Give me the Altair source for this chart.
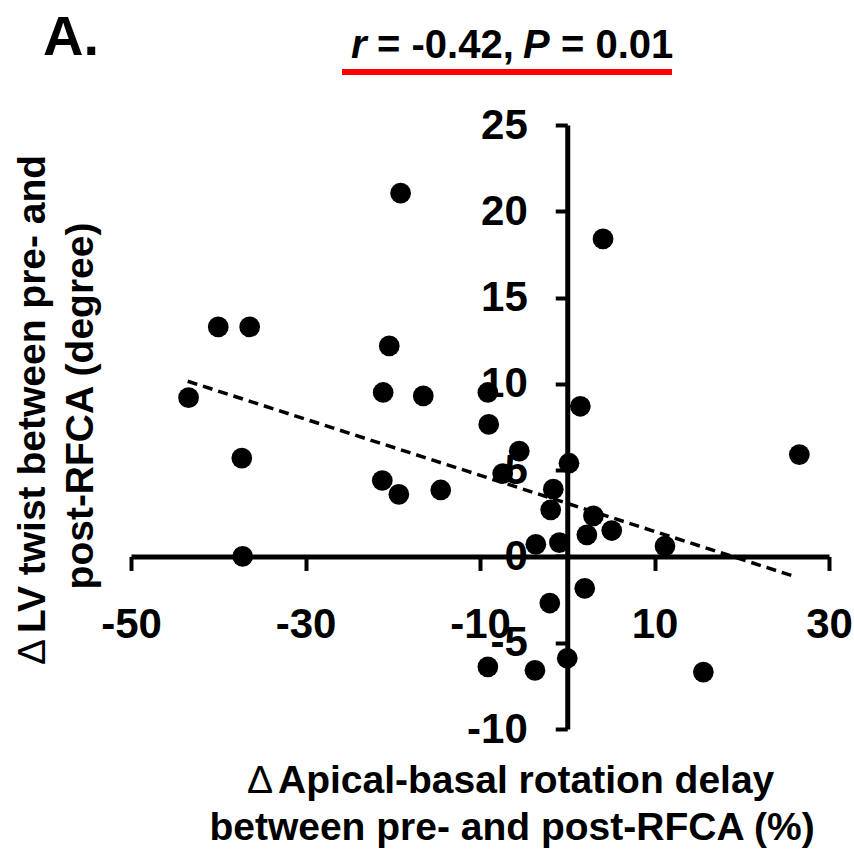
import altair as alt
import pandas as pd

# Data
x_vals = [-43.4, -40.0, -36.4, -37.3, -37.2,
          -19.1, -20.4, -21.1, -16.5, -21.2, -19.3, -14.5,
          -9.1, -9.0, -5.5, -7.4, -1.6, -1.9, -3.6, -0.9, 0.2,
          1.5, 4.1, 26.6, 3.0, 2.25, 5.1, 11.2,
          2.0, -2.0, -9.1, -3.7, 0.0, 15.6]
y_vals = [9.2, 13.3, 13.3, 5.7, 0.0,
          21.05, 12.2, 9.5, 9.3, 4.4, 3.6, 3.85,
          9.5, 7.65, 6.1, 4.8, 3.9, 2.7, 0.7, 0.8, 5.4,
          8.7, 18.4, 5.9, 2.35, 1.25, 1.5, 0.6,
          -1.85, -2.7, -6.4, -6.6, -5.9, -6.7]

trend_x = [-43.5, 26.3]
trend_y = [10.15, -1.2]

x_ticks = [-50, -30, -10, 10, 30]
y_ticks = [-10, -5, 0, 5, 10, 15, 20, 25]

FONT = "Liberation Sans"

W, H = 698, 604
PAD_L, PAD_T = 131, 125

pts = pd.DataFrame({"x": x_vals, "y": y_vals})
trend = pd.DataFrame({"x": trend_x, "y": trend_y})

xscale = alt.Scale(domain=[-50, 30], nice=False, zero=False)
yscale = alt.Scale(domain=[-10, 25], nice=False, zero=False)

y0_px = H * 25 / 35.0      # pixel of y = 0 inside the plot
x0_px = W * 50 / 80.0      # pixel of x = 0 inside the plot

x_axis = alt.Axis(values=x_ticks, orient="bottom", offset=-(H - y0_px),
                  title=None, grid=False, domainColor="black", domainWidth=5,
                  tickColor="black", tickWidth=4, tickSize=14,
                  labelExpr="toString(datum.value)",
                  labelFont=FONT, labelFontWeight="bold", labelFontSize=42,
                  labelColor="black", labelBaseline="alphabetic",
                  labelPadding=67, labelFlush=False, labelOverlap=False)
y_axis = alt.Axis(values=y_ticks, orient="left", offset=-x0_px,
                  title=None, grid=False, domainColor="black", domainWidth=5,
                  tickColor="black", tickWidth=4, tickSize=12,
                  labelExpr="toString(datum.value)",
                  labelFont=FONT, labelFontWeight="bold", labelFontSize=42,
                  labelColor="black", labelPadding=28, labelFlush=False,
                  labelOverlap=False)

points = alt.Chart(pts).mark_circle(size=430, color="black", opacity=1).encode(
    x=alt.X("x:Q", scale=xscale, axis=x_axis),
    y=alt.Y("y:Q", scale=yscale, axis=y_axis),
)

line = alt.Chart(trend).mark_line(color="black", strokeWidth=3.5,
                                  strokeDash=[10, 6]).encode(
    x=alt.X("x:Q", scale=xscale),
    y=alt.Y("y:Q", scale=yscale),
)

one = alt.Data(values=[{}])


def txt(s, x, y, size=39, weight="bold", style="normal", align="left",
        angle=0):
    kw = dict(font=FONT, fontSize=size, fontWeight=weight, fontStyle=style,
              align=align, baseline="alphabetic", color="black")
    if angle:
        kw["angle"] = angle
    return alt.Chart(one).mark_text(**kw).encode(
        x=alt.value(x - PAD_L), y=alt.value(y - PAD_T), text=alt.value(s))


annots = [
    txt("A.", 43, 55, size=56),
    txt("r", 351, 58, size=40, style="italic"),
    txt("= -0.42,", 377, 58, size=40),
    txt("P", 523, 58, size=40, style="italic"),
    txt("= 0.01", 561, 58, size=40),
    txt("\u0394", 247, 793, size=39, weight="normal"),
    txt("Apical-basal rotation delay", 278, 793),
    txt("between pre- and post-RFCA (%)", 512, 840, align="center"),
    txt("\u0394", 45, 665, size=39, weight="normal", angle=270),
    txt("LV twist between pre- and", 45, 633, angle=270),
    txt("post-RFCA (degree)", 93, 406, align="center", angle=270),
]

red = alt.Chart(one).mark_rule(color="#ff0000", strokeWidth=6).encode(
    x=alt.value(342 - PAD_L), x2=alt.value(672 - PAD_L), y=alt.value(72 - PAD_T))

chart = alt.layer(line, points, red, *annots).properties(
    width=W, height=H,
    padding={"left": PAD_L, "top": PAD_T, "right": 854 - PAD_L - W,
             "bottom": 850 - PAD_T - H},
    autosize=alt.AutoSizeParams(type="none"),
    background="white",
).configure_view(stroke=None)

chart.save("out.html", embed_options={"renderer": "svg", "actions": False})
